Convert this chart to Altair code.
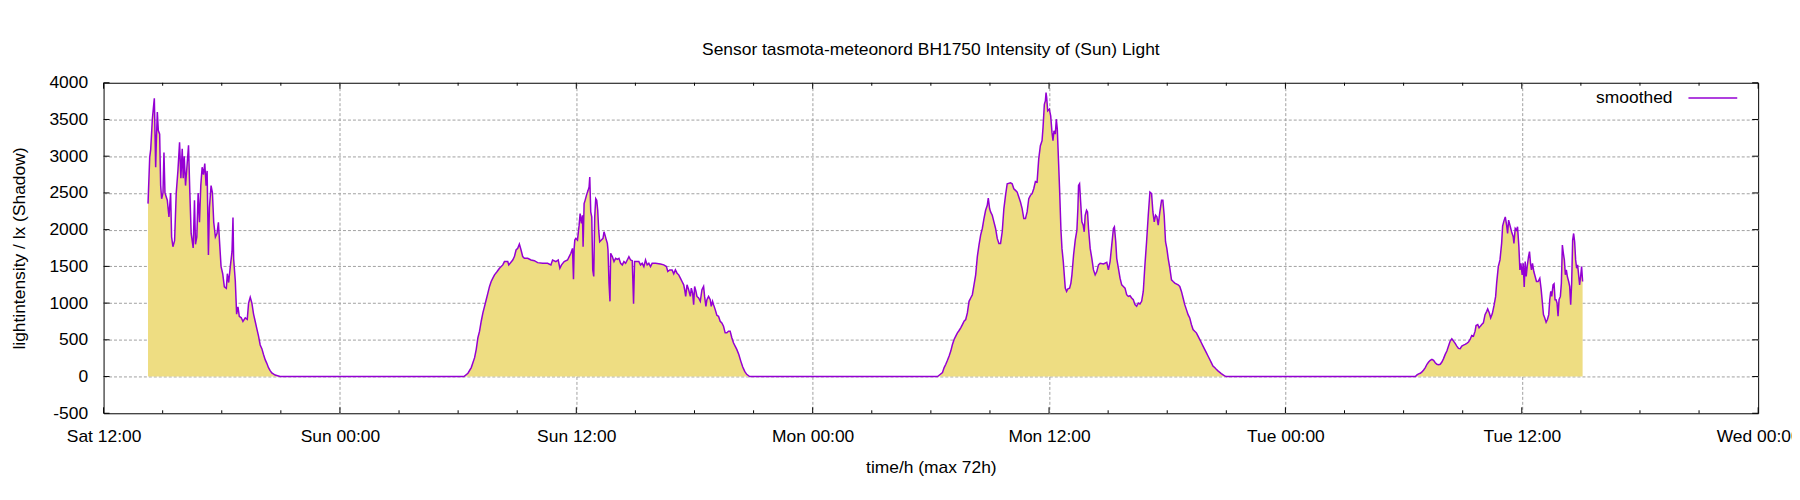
import json

import altair as alt
import pandas as pd

# (hours since Sat 12:00, light intensity in lx), one list per day
sat = [
    (2.257, 2354), (2.342, 2985), (2.392, 3090), (2.476, 3504), (2.527, 3653), (2.577, 3788),
    (2.645, 2850), (2.679, 3200), (2.729, 3600), (2.780, 3350), (2.847, 3300), (2.898, 2600),
    (2.948, 2420), (3.016, 2500), (3.066, 3050), (3.117, 2500), (3.235, 2400), (3.319, 2174),
    (3.403, 2500), (3.454, 1900), (3.521, 1768), (3.605, 1850), (3.689, 2500), (3.774, 2800),
    (3.858, 3188), (3.925, 2700), (3.993, 3100), (4.043, 2700), (4.094, 3000), (4.161, 2600),
    (4.245, 2900), (4.313, 3150), (4.380, 2500), (4.447, 1948), (4.549, 1750), (4.616, 2400),
    (4.666, 1800), (4.734, 1900), (4.801, 2500), (4.869, 2100), (4.936, 2600), (5.003, 2850),
    (5.071, 2750), (5.138, 2900), (5.205, 2600), (5.256, 2800), (5.323, 1655), (5.374, 2300),
    (5.458, 2600), (5.526, 2500), (5.593, 2100), (5.677, 1900), (5.761, 1950), (5.829, 2100),
    (5.896, 1800), (5.964, 1500), (6.048, 1400), (6.132, 1220), (6.233, 1200), (6.284, 1400),
    (6.351, 1280), (6.435, 1500), (6.520, 1700), (6.570, 2165), (6.604, 1600), (6.688, 1300),
    (6.755, 850), (6.823, 950), (6.890, 820), (6.991, 800), (7.075, 750), (7.193, 800),
    (7.294, 780), (7.362, 1000), (7.446, 1080), (7.530, 1000), (7.615, 850), (7.699, 750),
    (7.783, 650), (7.867, 550), (7.952, 430), (8.036, 380), (8.120, 300), (8.204, 230),
    (8.288, 180), (8.373, 120), (8.457, 80), (8.541, 50), (8.710, 20), (8.962, 0),
]
sun = [
    (18.296, 0), (18.498, 45), (18.667, 122), (18.836, 257), (18.920, 370), (19.004, 528),
    (19.088, 618), (19.173, 753), (19.257, 866), (19.341, 956), (19.425, 1046), (19.510, 1136),
    (19.594, 1227), (19.678, 1294), (19.762, 1339), (19.847, 1385), (19.981, 1430), (20.099, 1475),
    (20.268, 1520), (20.352, 1565), (20.520, 1565), (20.570, 1520), (20.773, 1587), (20.857, 1633),
    (20.942, 1723), (21.026, 1745), (21.110, 1804), (21.195, 1723), (21.279, 1633), (21.363, 1610),
    (21.532, 1610), (21.700, 1587), (21.869, 1578), (22.037, 1551), (22.290, 1542), (22.543, 1542),
    (22.711, 1520), (22.795, 1587), (22.964, 1565), (23.082, 1587), (23.166, 1475), (23.250, 1520),
    (23.385, 1565), (23.554, 1587), (23.638, 1633), (23.722, 1678), (23.806, 1745), (23.857, 1326),
    (23.891, 1745), (23.924, 1858), (23.975, 1881), (24.059, 1858), (24.143, 2061), (24.194, 2219),
    (24.261, 2084), (24.312, 2196), (24.345, 1768), (24.396, 2354), (24.447, 2399), (24.514, 2467),
    (24.598, 2535), (24.649, 2580), (24.683, 2715), (24.733, 2241), (24.784, 2174), (24.834, 1452),
    (24.885, 1362), (24.935, 2174), (24.986, 2422), (25.036, 2399), (25.087, 2264), (25.137, 1993),
    (25.188, 1835), (25.272, 1858), (25.356, 1881), (25.407, 1971), (25.458, 1926), (25.525, 1858),
    (25.576, 1813), (25.609, 1723), (25.660, 1272), (25.710, 1024), (25.744, 1678), (25.828, 1633),
    (25.913, 1565), (25.997, 1610), (26.081, 1596), (26.165, 1610), (26.250, 1542), (26.334, 1520),
    (26.418, 1565), (26.503, 1542), (26.587, 1587), (26.671, 1633), (26.755, 1587), (26.840, 1578),
    (26.907, 992), (26.958, 1565), (27.092, 1565), (27.176, 1565), (27.261, 1520), (27.345, 1542),
    (27.429, 1497), (27.514, 1587), (27.598, 1520), (27.682, 1542), (27.766, 1497), (27.851, 1542),
    (28.019, 1542), (28.272, 1533), (28.440, 1520), (28.575, 1497), (28.643, 1430), (28.744, 1452),
    (28.862, 1452), (28.946, 1398), (29.030, 1452), (29.115, 1407), (29.199, 1385), (29.283, 1339),
    (29.368, 1294), (29.452, 1249), (29.502, 1182), (29.553, 1091), (29.620, 1249), (29.704, 1182),
    (29.789, 1091), (29.839, 1204), (29.906, 1136), (29.957, 979), (30.007, 1227), (30.075, 1159),
    (30.125, 1091), (30.209, 1069), (30.294, 1024), (30.378, 1182), (30.462, 1227), (30.513, 1091),
    (30.580, 956), (30.631, 1046), (30.715, 1091), (30.799, 1046), (30.850, 956), (30.917, 1024),
    (30.968, 979), (31.052, 911), (31.136, 834), (31.220, 821), (31.305, 753), (31.389, 730),
    (31.473, 685), (31.558, 595), (31.642, 595), (31.726, 618), (31.810, 618), (31.895, 528),
    (31.979, 460), (32.063, 415), (32.147, 370), (32.250, 300), (32.350, 210), (32.450, 130),
    (32.550, 70), (32.650, 30), (32.800, 0),
]
mon = [
    (42.337, 0), (42.421, 18), (42.590, 54), (42.674, 122), (42.758, 167), (42.842, 221),
    (42.927, 280), (43.011, 347), (43.095, 437), (43.179, 505), (43.264, 550), (43.348, 595),
    (43.432, 627), (43.516, 663), (43.601, 708), (43.685, 753), (43.769, 776), (43.853, 866),
    (43.938, 1024), (44.022, 1069), (44.106, 1114), (44.190, 1249), (44.275, 1385), (44.359, 1633),
    (44.443, 1790), (44.527, 1926), (44.612, 2016), (44.696, 2151), (44.780, 2264), (44.864, 2332),
    (44.915, 2431), (44.982, 2287), (45.033, 2241), (45.117, 2196), (45.201, 2106), (45.286, 2016),
    (45.370, 1881), (45.454, 1813), (45.538, 1813), (45.623, 1971), (45.707, 2287), (45.791, 2467),
    (45.875, 2625), (46.044, 2638), (46.128, 2625), (46.212, 2557), (46.297, 2535), (46.381, 2512),
    (46.465, 2444), (46.549, 2377), (46.634, 2287), (46.718, 2151), (46.802, 2151), (46.886, 2241),
    (46.971, 2422), (47.055, 2467), (47.139, 2490), (47.223, 2557), (47.308, 2656), (47.392, 2647),
    (47.476, 2963), (47.560, 3143), (47.645, 3211), (47.695, 3392), (47.762, 3707), (47.813, 3752),
    (47.847, 3865), (47.880, 3797), (47.931, 3617), (48.015, 3640), (48.083, 3549), (48.150, 3324),
    (48.200, 3211), (48.251, 3346), (48.318, 3301), (48.369, 3504), (48.419, 3369), (48.487, 2895),
    (48.537, 2535), (48.605, 1993), (48.655, 1745), (48.723, 1565), (48.773, 1385), (48.824, 1204),
    (48.891, 1159), (48.959, 1195), (49.043, 1204), (49.110, 1272), (49.161, 1385), (49.245, 1655),
    (49.330, 1858), (49.414, 1993), (49.464, 2287), (49.498, 2602), (49.549, 2625), (49.599, 2399),
    (49.667, 2106), (49.734, 2061), (49.785, 1971), (49.835, 2196), (49.903, 2264), (49.953, 2241),
    (50.004, 2016), (50.088, 1745), (50.172, 1610), (50.256, 1452), (50.341, 1385), (50.425, 1429),
    (50.509, 1520), (50.593, 1542), (50.762, 1533), (50.931, 1556), (51.015, 1452), (51.099, 1565),
    (51.183, 1790), (51.268, 2016), (51.318, 2039), (51.386, 1835), (51.436, 1610), (51.520, 1475),
    (51.604, 1339), (51.689, 1249), (51.773, 1227), (51.857, 1204), (51.941, 1114), (52.026, 1091),
    (52.110, 1100), (52.194, 1069), (52.278, 1046), (52.363, 979), (52.447, 956), (52.531, 1001),
    (52.615, 988), (52.700, 1024), (52.784, 1159), (52.868, 1520), (52.952, 1835), (53.037, 2196),
    (53.121, 2512), (53.205, 2490), (53.273, 2241), (53.340, 2106), (53.407, 2196), (53.475, 2174),
    (53.542, 2061), (53.626, 2241), (53.711, 2399), (53.778, 2399), (53.845, 2196), (53.913, 1835),
    (53.980, 1745), (54.048, 1610), (54.132, 1475), (54.216, 1317), (54.300, 1294), (54.385, 1272),
    (54.553, 1249), (54.637, 1227), (54.722, 1159), (54.806, 1069), (54.890, 979), (54.974, 911),
    (55.059, 843), (55.143, 798), (55.227, 708), (55.311, 640), (55.396, 618), (55.480, 595),
    (55.564, 550), (55.648, 505), (55.733, 460), (55.817, 415), (55.901, 370), (55.985, 325),
    (56.070, 280), (56.154, 235), (56.238, 189), (56.322, 144), (56.407, 122), (56.491, 99),
    (56.575, 77), (56.744, 41), (56.912, 9), (56.996, 0),
]
tue = [
    (66.596, 0), (66.680, 23), (66.764, 36), (66.849, 45), (66.933, 63), (67.017, 90),
    (67.101, 122), (67.186, 167), (67.270, 198), (67.354, 221), (67.438, 235), (67.523, 221),
    (67.607, 189), (67.691, 167), (67.775, 162), (67.860, 167), (67.944, 198), (68.028, 244),
    (68.112, 302), (68.197, 347), (68.281, 415), (68.365, 483), (68.449, 514), (68.534, 483),
    (68.618, 451), (68.702, 415), (68.786, 383), (68.871, 379), (68.955, 415), (69.039, 428),
    (69.123, 437), (69.208, 451), (69.292, 469), (69.376, 505), (69.460, 559), (69.545, 550),
    (69.629, 618), (69.679, 695), (69.764, 708), (69.831, 663), (69.898, 686), (69.966, 708),
    (70.050, 731), (70.134, 843), (70.219, 888), (70.269, 920), (70.353, 866), (70.421, 798),
    (70.505, 857), (70.589, 965), (70.673, 1091), (70.724, 1272), (70.808, 1497), (70.893, 1588),
    (70.977, 1813), (71.027, 2048), (71.095, 2120), (71.162, 2174), (71.229, 2061), (71.280, 1948),
    (71.331, 2129), (71.398, 2061), (71.482, 1971), (71.566, 1903), (71.600, 1813), (71.667, 2016),
    (71.735, 1994), (71.785, 2039), (71.853, 1768), (71.904, 1452), (71.954, 1542), (72.021, 1385),
    (72.072, 1542), (72.123, 1218), (72.173, 1565), (72.224, 1362), (72.274, 1497), (72.342, 1633),
    (72.392, 1700), (72.443, 1542), (72.493, 1452), (72.544, 1542), (72.611, 1430), (72.679, 1362),
    (72.746, 1294), (72.830, 1294), (72.915, 1339), (72.982, 1191), (73.032, 1046), (73.100, 843),
    (73.167, 798), (73.235, 740), (73.302, 776), (73.369, 843), (73.420, 1046), (73.471, 1159),
    (73.521, 1091), (73.588, 1249), (73.639, 1263), (73.690, 1046), (73.740, 1046), (73.791, 1001),
    (73.841, 821), (73.892, 1046), (73.959, 1091), (74.010, 1272), (74.060, 1790), (74.111, 1678),
    (74.161, 1588), (74.212, 1385), (74.262, 1452), (74.313, 1362), (74.380, 1294), (74.431, 1227),
    (74.482, 979), (74.532, 1272), (74.583, 1858), (74.633, 1948), (74.684, 1836), (74.734, 1588),
    (74.785, 1475), (74.835, 1520), (74.886, 1385), (74.936, 1249), (74.987, 1362), (75.037, 1497),
    (75.088, 1294),
]

tick_labels = ["Sat 12:00", "Sun 00:00", "Sun 12:00", "Mon 00:00",
               "Mon 12:00", "Tue 00:00", "Tue 12:00", "Wed 00:00"]
major_hours = [0, 12, 24, 36, 48, 60, 72, 84]
minor_hours = [3, 6, 9, 15, 18, 21, 27, 30, 33, 39, 42, 45,
               51, 54, 57, 63, 66, 69, 75, 78, 81]
y_ticks = [-500, 0, 500, 1000, 1500, 2000, 2500, 3000, 3500, 4000]

W, H = 1662, 332
FONT = "Liberation Sans"
FS = 17.5
FILL = "#eedd82"
LINE = "#9400d3"
GRID = "#a0a0a0"

df = pd.DataFrame(sat + sun + mon + tue, columns=["h", "v"])

x_enc = alt.X(
    "h:Q",
    scale=alt.Scale(domain=[0, 84], nice=False, zero=False),
    axis=alt.Axis(
        values=major_hours,
        labelExpr=json.dumps(tick_labels) + "[round(datum.value / 12)]",
        title="time/h (max 72h)",
        tickSize=0, domain=False, labelFlush=False,
        labelPadding=14, titlePadding=14,
        gridOpacity={"condition": {"test": "datum.value <= 0 || datum.value >= 84", "value": 0}, "value": 1},
    ),
)
y_enc = alt.Y(
    "v:Q",
    scale=alt.Scale(domain=[-500, 4000], nice=False),
    axis=alt.Axis(
        values=y_ticks,
        labelExpr="'' + datum.value",
        title="lightintensity / lx (Shadow)",
        tickSize=0, domain=False, labelFlush=False,
        labelPadding=16, titlePadding=20,
        gridOpacity={"condition": {"test": "datum.value <= -500 || datum.value >= 4000", "value": 0}, "value": 1},
    ),
)

area = alt.Chart(df).mark_area(color=FILL).encode(x=x_enc, y=y_enc, y2=alt.datum(0))
line = alt.Chart(df).mark_line(color=LINE, strokeWidth=1.5).encode(x=x_enc, y=y_enc)

# gnuplot style ticks pointing into the plot, on all four sides
major_df = pd.DataFrame({"h": major_hours})
minor_df = pd.DataFrame({"h": minor_hours})
ytick_df = pd.DataFrame({"v": y_ticks})
ticks = [
    alt.Chart(major_df).mark_rule(color="black").encode(x=x_enc, y=alt.value(H), y2=alt.value(H - 6)),
    alt.Chart(major_df).mark_rule(color="black").encode(x=x_enc, y=alt.value(0), y2=alt.value(6)),
    alt.Chart(minor_df).mark_rule(color="black").encode(x=x_enc, y=alt.value(H), y2=alt.value(H - 3)),
    alt.Chart(minor_df).mark_rule(color="black").encode(x=x_enc, y=alt.value(0), y2=alt.value(3)),
    alt.Chart(ytick_df).mark_rule(color="black").encode(y=y_enc, x=alt.value(0), x2=alt.value(6)),
    alt.Chart(ytick_df).mark_rule(color="black").encode(y=y_enc, x=alt.value(W - 6), x2=alt.value(W)),
]

legend_df = pd.DataFrame({"label": ["smoothed"]})
legend_text = alt.Chart(legend_df).mark_text(
    align="right", baseline="alphabetic", font=FONT, fontSize=FS, color="black"
).encode(x=alt.value(1576), y=alt.value(20.7), text="label:N")
legend_line = alt.Chart(legend_df).mark_rule(color=LINE, strokeWidth=1.5).encode(
    x=alt.value(1592), x2=alt.value(1641), y=alt.value(15.3)
)

chart = alt.layer(area, line, *ticks, legend_text, legend_line).properties(
    width=W,
    height=H,
    title=alt.TitleParams(
        "Sensor tasmota-meteonord BH1750 Intensity of (Sun) Light",
        font=FONT, fontSize=FS, fontWeight="normal", anchor="middle", offset=15,
    ),
    autosize=alt.AutoSizeParams(type="none"),
    padding={"left": 96, "top": 74, "right": 34, "bottom": 80},
).configure_view(
    stroke="black", strokeWidth=1
).configure_axis(
    labelFont=FONT, labelFontSize=FS, labelColor="black",
    titleFont=FONT, titleFontSize=FS, titleFontWeight="normal", titleColor="black",
    gridColor=GRID, gridDash=[3, 2], gridWidth=1,
)

chart.save("out.html", embed_options={"renderer": "svg", "actions": False})
